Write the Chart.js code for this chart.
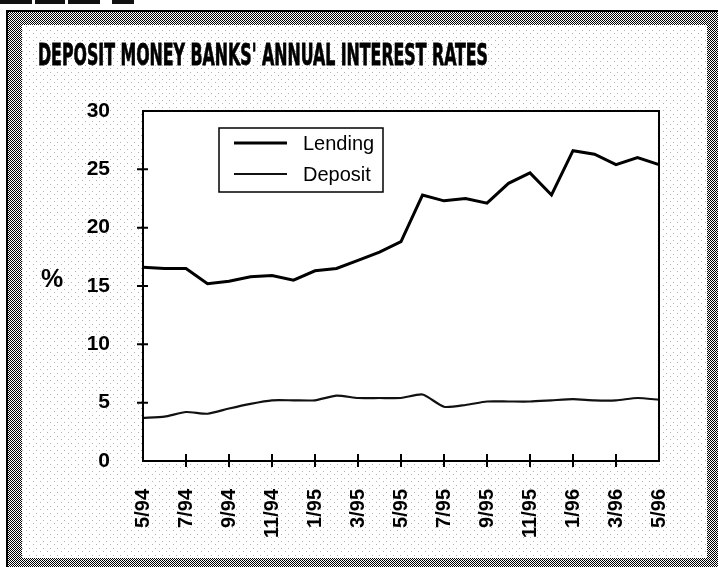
<!DOCTYPE html>
<html>
<head>
<meta charset="utf-8">
<script src="https://cdn.jsdelivr.net/npm/chart.js@4"></script>
<style>
  html, body { margin: 0; padding: 0; background: #fff; }
  canvas { display: block; }
</style>
</head>
<body>
<canvas id="c" width="718" height="567"></canvas>
<script>
// Monthly observations, May 1994 – May 1996
const months = ['5/94','6/94','7/94','8/94','9/94','10/94','11/94','12/94',
                '1/95','2/95','3/95','4/95','5/95','6/95','7/95','8/95',
                '9/95','10/95','11/95','12/95','1/96','2/96','3/96','4/96','5/96'];
const lending = [16.6, 16.5, 16.5, 15.2, 15.4, 15.8, 15.9, 15.5, 16.3, 16.5, 17.2, 17.9, 18.8,
                 22.8, 22.3, 22.5, 22.1, 23.8, 24.7, 22.8, 26.6, 26.3, 25.4, 26.0, 25.4];
const deposit = [3.7, 3.8, 4.2, 4.05, 4.5, 4.9, 5.2, 5.2, 5.2, 5.6, 5.4, 5.4, 5.4,
                 5.7, 4.65, 4.8, 5.1, 5.1, 5.1, 5.2, 5.3, 5.2, 5.2, 5.4, 5.25];
const yTicks = [0, 5, 10, 15, 20, 25, 30];
const titleText = "DEPOSIT MONEY BANKS' ANNUAL INTEREST RATES";
const yUnit = '%';

const SANS = '"Liberation Sans", Arial, Helvetica, sans-serif';

// small tiled textures for the printed screen look
function tile(size, dots, color) {
  const t = document.createElement('canvas');
  t.width = size; t.height = size;
  const g = t.getContext('2d');
  g.fillStyle = color;
  dots.forEach(([x, y]) => g.fillRect(x, y, 1, 1));
  return t;
}
const bandTile = tile(2, [[0, 0], [1, 1]], '#000');
const grainTile = tile(7, [[1, 2], [5, 5]], 'rgba(0,0,0,0.3)');

const framePlugin = {
  id: 'frame',
  beforeDraw(chart) {
    const { ctx, width, height, chartArea: a } = chart;
    ctx.save();
    ctx.fillStyle = '#fff';
    ctx.fillRect(0, 0, width, height);
    // heavy rule fragments along the top edge
    ctx.fillStyle = '#111';
    ctx.fillRect(0, 0, 32, 4);
    ctx.fillRect(35, 0, 30, 4);
    ctx.fillRect(68, 0, 32, 4);
    ctx.fillRect(112, 0, 22, 4);
    // screened border band
    ctx.fillStyle = ctx.createPattern(bandTile, 'repeat');
    ctx.fillRect(7, 11, width - 7, height - 11);
    ctx.fillStyle = '#fff';
    ctx.fillRect(22, 25, 707 - 22, 558 - 25);
    ctx.fillStyle = ctx.createPattern(grainTile, 'repeat');
    ctx.fillRect(22, 25, 707 - 22, 558 - 25);
    // outer rule
    ctx.fillStyle = '#000';
    ctx.fillRect(6, 10, 2, height - 10);
    ctx.fillRect(6, 10, width - 6, 2);
    // plot area
    ctx.fillStyle = '#fff';
    ctx.fillRect(a.left, a.top, a.right - a.left, a.bottom - a.top);
    ctx.restore();
  },
  afterDraw(chart) {
    const { ctx, chartArea: a, scales } = chart;
    ctx.save();
    // plot frame
    ctx.strokeStyle = '#000';
    ctx.lineWidth = 2;
    ctx.strokeRect(a.left, a.top, a.right - a.left, a.bottom - a.top);
    // tick marks crossing the axes
    ctx.beginPath();
    scales.x.ticks.forEach((t, i) => {
      if (i === 0 || i === scales.x.ticks.length - 1 || i % 2) return;
      const px = scales.x.getPixelForTick(i);
      ctx.moveTo(px, a.bottom - 7);
      ctx.lineTo(px, a.bottom + 6);
    });
    scales.y.ticks.forEach((t) => {
      if (t.value <= 0 || t.value >= 30) return;
      const py = scales.y.getPixelForValue(t.value);
      ctx.moveTo(a.left - 6, py);
      ctx.lineTo(a.left + 5, py);
    });
    ctx.stroke();

    // unit label
    ctx.fillStyle = '#000';
    ctx.font = 'bold 25px ' + SANS;
    ctx.textAlign = 'center';
    ctx.textBaseline = 'middle';
    ctx.fillText(yUnit, 52, 280);

    // title, condensed
    ctx.font = 'bold 31px "DejaVu Sans Condensed", "DejaVu Sans", sans-serif';
    ctx.textAlign = 'left';
    ctx.textBaseline = 'alphabetic';
    const w = ctx.measureText(titleText).width;
    ctx.save();
    ctx.translate(38, 65);
    ctx.scale(450 / w, 1);
    ctx.lineWidth = 0.8;
    ctx.strokeStyle = '#000';
    ctx.fillText(titleText, 0, 0);
    ctx.strokeText(titleText, 0, 0);
    ctx.restore();

    // legend box
    const bx = 219, by = 128, bw = 164, bh = 64;
    ctx.fillStyle = '#fff';
    ctx.fillRect(bx, by, bw, bh);
    ctx.lineWidth = 1.5;
    ctx.strokeStyle = '#000';
    ctx.strokeRect(bx, by, bw, bh);
    chart.data.datasets.forEach((ds, i) => {
      const ly = by + 15 + i * 31;
      ctx.beginPath();
      ctx.strokeStyle = ds.borderColor;
      ctx.lineWidth = ds.borderWidth;
      ctx.moveTo(bx + 15, ly);
      ctx.lineTo(bx + 68, ly);
      ctx.stroke();
      ctx.fillStyle = '#000';
      ctx.font = '20px ' + SANS;
      ctx.textBaseline = 'middle';
      ctx.fillText(ds.label, bx + 84, ly + 1);
    });
    ctx.restore();
  }
};

new Chart(document.getElementById('c'), {
  type: 'line',
  data: {
    labels: months,
    datasets: [
      { label: 'Lending', data: lending, borderColor: '#000', borderWidth: 3,
        pointRadius: 0, tension: 0, fill: false },
      { label: 'Deposit', data: deposit, borderColor: '#111', borderWidth: 2.2,
        pointRadius: 0, tension: 0.2, fill: false }
    ]
  },
  options: {
    responsive: false,
    animation: false,
    events: [],
    layout: { padding: { top: 111, right: 59, left: 0, bottom: 0 } },
    plugins: { legend: { display: false }, title: { display: false }, tooltip: { enabled: false } },
    scales: {
      x: {
        type: 'category',
        grid: { display: false, drawTicks: false },
        border: { display: false },
        afterFit(s) { s.height = 106; },
        ticks: {
          autoSkip: false,
          minRotation: 90,
          maxRotation: 90,
          padding: 28,
          color: '#000',
          font: { family: SANS, size: 20, weight: 'bold' },
          callback(v, i) { return i % 2 ? '' : months[i]; }
        }
      },
      y: {
        min: 0,
        max: 30,
        grid: { display: false, drawTicks: false },
        border: { display: false },
        afterFit(s) { s.width = 143; },
        afterBuildTicks(s) { s.ticks = yTicks.map(v => ({ value: v })); },
        ticks: {
          padding: 33,
          color: '#000',
          font: { family: SANS, size: 21, weight: 'bold' }
        }
      }
    }
  },
  plugins: [framePlugin]
});
</script>
</body>
</html>
